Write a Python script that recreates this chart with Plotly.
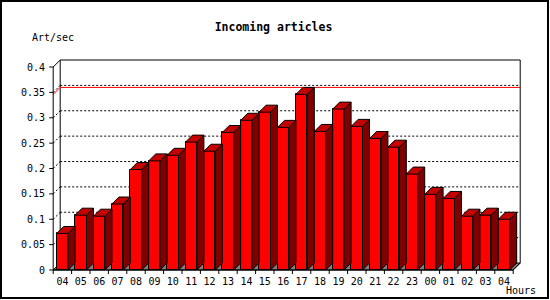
import plotly.graph_objects as go

# ---------------- data ----------------
hours = ["04", "05", "06", "07", "08", "09", "10", "11", "12", "13", "14", "15", "16",
         "17", "18", "19", "20", "21", "22", "23", "00", "01", "02", "03", "04"]
rates = [0.072, 0.108, 0.106, 0.130, 0.198, 0.215, 0.226, 0.252, 0.234, 0.271, 0.295,
         0.311, 0.281, 0.346, 0.273, 0.317, 0.283, 0.259, 0.242, 0.189, 0.149, 0.141,
         0.106, 0.108, 0.100]
y_ticks = [0, 0.05, 0.1, 0.15, 0.2, 0.25, 0.3, 0.35, 0.4]
y_tick_text = ["0", "0.05", "0.1", "0.15", "0.2", "0.25", "0.3", "0.35", "0.4"]
title_text = "Incoming articles"
y_title = "Art/sec"
x_title = "Hours"

# ---------------- geometry ----------------
W, H = 550, 300
L, R, T, B = 48, 28, 59, 25
PW, PH = W - L - R, H - T - B
X0PX, PXX = 53.2, 18.4      # pixel of x=-0.5, px per category
Y0PX, PXY = 270.0, 507.5    # pixel of y=0, px per unit
xr = [-0.5 - (X0PX - L) / PXX, -0.5 + (W - R - X0PX) / PXX]
yr = [-(H - B - Y0PX) / PXY, (Y0PX - T) / PXY]
dx, dy = 7 / PXX, 7 / PXY
bw = 11.4 / PXX
n = len(rates)
xs = list(range(n))
xl, xrt = -0.5, n - 0.5
ymax_axis = y_ticks[-1]

FONT = "DejaVu Sans Mono"
RED, SIDE, TOP, GRAY = "#ff0000", "#800000", "#c40000", "#808080"

shapes = []


def line(x0, y0, x1, y1, color="black", dash="solid", width=1, layer="below"):
    shapes.append(dict(type="line", xref="x", yref="y", x0=x0, y0=y0, x1=x1, y1=y1,
                       line=dict(color=color, width=width, dash=dash), layer=layer))


# floor
shapes.append(dict(type="path", xref="x", yref="y", layer="below",
                   path=f"M {xl} 0 L {xrt} 0 L {xrt+dx} {dy} L {xl+dx} {dy} Z",
                   fillcolor=GRAY, line=dict(color="black", width=1)))
# back wall edges
line(xl + dx, dy, xl + dx, ymax_axis + dy)
line(xrt + dx, dy, xrt + dx, ymax_axis + dy)
line(xl + dx, ymax_axis + dy, xrt + dx, ymax_axis + dy)
line(xl, ymax_axis, xl + dx, ymax_axis + dy)
# dotted grid lines
for v in y_ticks[1:-1]:
    line(xl + dx, v + dy, xrt + dx, v + dy, dash="2px,2px")
    line(xl, v, xl + dx, v + dy, dash="2px,2px")
# max line (red)
vmax = max(rates)
line(xl + dx, vmax + dy, xrt + dx, vmax + dy, color="#ff0000")
line(xl, vmax, xl + dx, vmax + dy, color="#ff0000")
# front y axis + ticks
line(xl, 0, xl, ymax_axis)
for v in y_ticks:
    line(xl - 4 / PXX, v, xl, v)
# x axis + ticks
line(xl, 0, xrt, 0)
line(xrt, 0, xrt + dx, dy)
for k in range(n + 1):
    line(k - 0.5, 0, k - 0.5, -4 / PXY)

# outer border (paper coords)
shapes.append(dict(type="rect", xref="paper", yref="paper",
                   x0=(1 - L) / PW, x1=(548 - L) / PW,
                   y0=(H - B - 298) / PH, y1=(H - B - 1) / PH,
                   line=dict(color="black", width=2), fillcolor="rgba(0,0,0,0)",
                   layer="above"))

fig = go.Figure()

# front faces
fig.add_trace(go.Bar(x=xs, y=rates, width=bw, marker=dict(color=RED, line=dict(color="black", width=1)),
                     hoverinfo="skip", showlegend=False))

# side and top faces
sx, sy, tx, ty = [], [], [], []
for c, v in zip(xs, rates):
    r = c + bw / 2
    lft = c - bw / 2
    sx += [r, r + dx, r + dx, r, r, None]
    sy += [0, dy, v + dy, v, 0, None]
    tx += [lft, r, r + dx, lft + dx, lft, None]
    ty += [v, v, v + dy, v + dy, v, None]
fig.add_trace(go.Scatter(x=sx, y=sy, mode="lines", fill="toself", fillcolor=SIDE,
                         line=dict(color="black", width=1), hoverinfo="skip", showlegend=False))
fig.add_trace(go.Scatter(x=tx, y=ty, mode="lines", fill="toself", fillcolor=TOP,
                         line=dict(color="black", width=1), hoverinfo="skip", showlegend=False))


def px_x(p):
    return (p - L) / PW


def px_y(p):
    return (H - B - p) / PH


fig.update_layout(
    width=W, height=H, autosize=False,
    margin=dict(l=L, r=R, t=T, b=B, pad=0),
    paper_bgcolor="white", plot_bgcolor="white",
    showlegend=False,
    bargap=0,
    shapes=shapes,
    font=dict(family=FONT, size=10, color="black"),
    title=dict(text=title_text, x=273.5 / W, xref="container", xanchor="center",
               y=1 - 27 / H, yref="container", yanchor="middle",
               font=dict(family=FONT, size=11.5, color="black", weight="bold")),
    xaxis=dict(range=xr, tickmode="array", tickvals=xs, ticktext=hours,
               showgrid=False, zeroline=False, showline=False, ticks="",
               ticklabelstandoff=-1,
               tickfont=dict(family=FONT, size=10, color="black"), fixedrange=True),
    yaxis=dict(range=yr, tickmode="array", tickvals=y_ticks, ticktext=y_tick_text,
               showgrid=False, zeroline=False, showline=False, ticks="",
               ticklabelstandoff=2,
               tickfont=dict(family=FONT, size=10, color="black"), fixedrange=True),
    annotations=[
        dict(text=y_title, xref="paper", yref="paper", x=px_x(30), y=px_y(37),
             xanchor="left", yanchor="middle", showarrow=False,
             font=dict(family=FONT, size=10, color="black")),
        dict(text=x_title, xref="paper", yref="paper", x=px_x(504), y=px_y(290),
             xanchor="left", yanchor="middle", showarrow=False,
             font=dict(family=FONT, size=10, color="black")),
    ],
)

fig.write_html("out.html")
